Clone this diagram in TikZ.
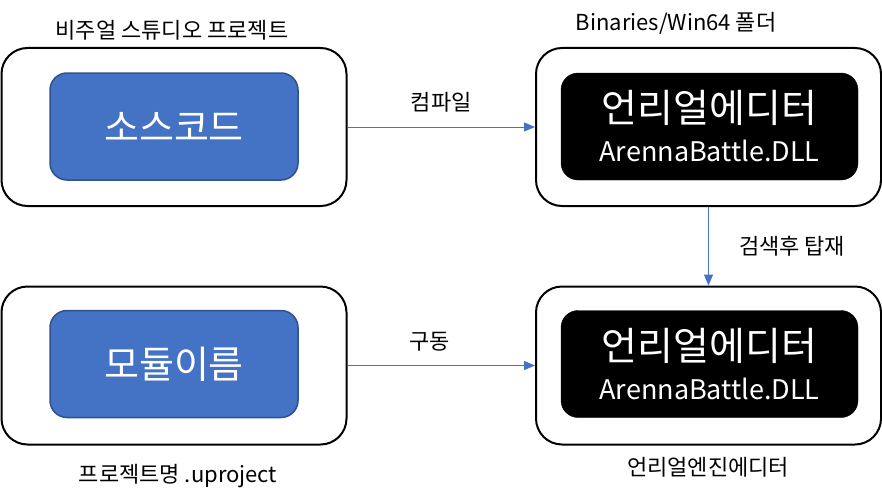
\documentclass[tikz,border=0pt]{standalone}
\usepackage{fontspec}
\setmainfont{Noto Sans CJK KR}
\usetikzlibrary{arrows.meta}
\definecolor{boxblue}{HTML}{4472C4}
\definecolor{edgeblue}{HTML}{2F528F}
\tikzset{
  outerbox/.style={draw=black, line width=2pt, rounded corners=26pt, fill=white,
    minimum width=345pt, minimum height=158pt, inner sep=0pt},
  bluebox/.style={draw=edgeblue, line width=1.5pt, fill=boxblue, rounded corners=17pt,
    minimum width=248pt, minimum height=107pt, inner sep=0pt, text=white,
    font=\fontsize{38}{40}\selectfont},
  blackbox/.style={draw=black, fill=black, rounded corners=17pt,
    minimum width=297pt, minimum height=107pt, inner sep=0pt, text=white, align=center,
    font=\fontsize{27}{39}\selectfont},
  flow/.style={draw=boxblue, line width=1pt, -{Triangle[length=11pt,width=9pt]}},
  lbl/.style={font=\fontsize{22}{26}\selectfont, inner sep=0pt}
}
\begin{document}
\begin{tikzpicture}[x=1pt,y=-1pt]
\useasboundingbox (0,0) rectangle (882,503);
% outer boxes
\node[outerbox] (vs) at (174,127) {};
\node[outerbox] (bin) at (708.5,127) {};
\node[outerbox] (mod) at (174,365.5) {};
\node[outerbox] (ue) at (708.5,365.5) {};
% inner boxes
\node[bluebox] (src) at (174,126.5) {소스코드};
\node[bluebox] (name) at (174,364) {모듈이름};
\newcommand{\dllcontent}{{\fontsize{39}{40}\selectfont 언리얼에디터}\\ArennaBattle.DLL}
\node[blackbox] (dll1) at (709.5,126.5) {\dllcontent};
\node[blackbox] (dll2) at (709.5,364) {\dllcontent};
% labels
\node[lbl] (lvs) at (172,30) {비주얼 스튜디오 프로젝트};
\node[lbl] (lbin) at (676,23) {Binaries/Win64 폴더};
\node[lbl] (lmod) at (178,476) {프로젝트명 .uproject};
\node[lbl] (lue) at (708,467) {언리얼엔진에디터};
% connectors
\draw[flow] (vs.east) -- node[lbl, above=14pt] (lcomp) {컴파일} (bin.west);
\draw[flow] (mod.east) -- node[lbl, above=14pt, xshift=-12pt] (lrun) {구동} (ue.west);
\draw[flow] (bin.south) -- node[lbl, right=30pt] (lload) {검색후 탑재} (ue.north);
\end{tikzpicture}
\end{document}
